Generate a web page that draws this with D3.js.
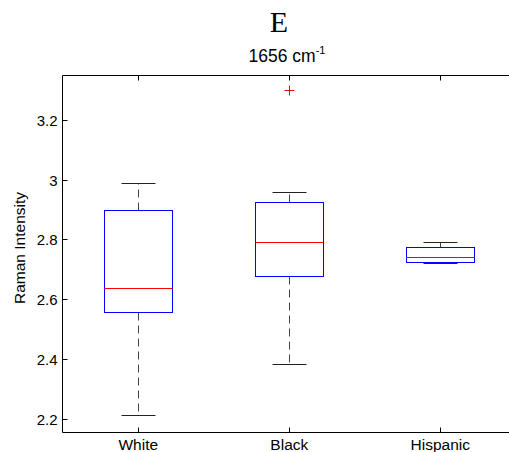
<!DOCTYPE html>
<html>
<head>
<meta charset="utf-8">
<script src="https://cdn.jsdelivr.net/npm/d3@7"></script>
<style>
  body { margin: 0; background: #fff; overflow: hidden; }
  svg { display: block; }
  text { font-family: Arial, "Liberation Sans", sans-serif; fill: #000; }
</style>
</head>
<body>
<div id="chart"></div>
<script>
// box plot values
var groups = ["White", "Black", "Hispanic"];
var whiskerLow = [2.211, 2.382, 2.720];
var q1 = [2.557, 2.677, 2.726];
var medians = [2.638, 2.791, 2.741];
var q3 = [2.900, 2.925, 2.776];
var whiskerHigh = [2.988, 2.960, 2.790];
var outliers = [[], [3.30], []];
var yTicks = [2.2, 2.4, 2.6, 2.8, 3.0, 3.2];

var W = 509, H = 452;

var svg = d3.select("#chart").append("svg")
    .attr("width", W).attr("height", H);

var x = d3.scaleLinear()
    .domain([0.5, 3.5])
    .range([62.8, 515.8]);

var y = d3.scaleLinear()
    .domain([2.157, 3.352])
    .range([432, 75]);

// crisp 1px lines
function px(v) { return Math.round(v - 0.5) + 0.5; }

var plotTop = px(y(3.352)), plotBottom = px(y(2.157));
var plotLeft = px(x(0.5));

// axes (right side of the box falls outside the window)
var axis = svg.append("g").attr("stroke", "#000").attr("stroke-width", 1).attr("fill", "none");
axis.append("path")
    .attr("d", "M" + W + "," + plotTop + "H" + plotLeft + "V" + plotBottom + "H" + W);

// y ticks (inward)
yTicks.forEach(function(t) {
    var yy = px(y(t));
    axis.append("line").attr("x1", plotLeft).attr("x2", plotLeft + 5).attr("y1", yy).attr("y2", yy);
});
// x ticks (inward, top and bottom)
groups.forEach(function(g, i) {
    var xx = px(x(i + 1));
    axis.append("line").attr("x1", xx).attr("x2", xx).attr("y1", plotBottom).attr("y2", plotBottom - 5);
    axis.append("line").attr("x1", xx).attr("x2", xx).attr("y1", plotTop).attr("y2", plotTop + 5);
});

svg.append("g").selectAll("text")
    .data(yTicks).enter().append("text")
    .attr("x", plotLeft - 5)
    .attr("y", function(d) { return y(d); })
    .attr("dy", "0.36em")
    .attr("text-anchor", "end")
    .style("font-size", "15px")
    .text(function(d) { return String(+d.toFixed(1)); });

svg.append("g").selectAll("text")
    .data(groups).enter().append("text")
    .attr("x", function(d, i) { return x(i + 1); })
    .attr("y", 450)
    .attr("text-anchor", "middle")
    .style("font-size", "15.5px")
    .text(function(d) { return d; });

// y label
svg.append("text")
    .attr("transform", "translate(25,248) rotate(-90)")
    .attr("text-anchor", "middle")
    .style("font-size", "15.5px")
    .text("Raman Intensity");

// titles
svg.append("text")
    .attr("x", 279).attr("y", 32)
    .attr("text-anchor", "middle")
    .style("font-family", "'Liberation Serif', 'Times New Roman', serif")
    .style("font-size", "30px")
    .text("E");

var sub = svg.append("text")
    .attr("x", 287).attr("y", 62)
    .attr("text-anchor", "middle")
    .style("font-size", "17.5px");
sub.append("tspan").text("1656 cm");
sub.append("tspan").attr("dy", -8).style("font-size", "11px").text("-1");

// boxes
var halfBox = 0.225, halfCap = 0.113;
var boxes = svg.append("g").attr("fill", "none").attr("stroke-width", 1);

groups.forEach(function(g, i) {
    var c = px(x(i + 1));
    var bx0 = px(x(i + 1 - halfBox)), bx1 = px(x(i + 1 + halfBox));
    var cx0 = px(x(i + 1 - halfCap)), cx1 = px(x(i + 1 + halfCap));
    var yq1 = px(y(q1[i])), yq3 = px(y(q3[i]));
    var ylo = px(y(whiskerLow[i])), yhi = px(y(whiskerHigh[i]));
    var ymed = px(y(medians[i]));

    // whiskers
    boxes.append("line").attr("x1", c).attr("x2", c).attr("y1", yq3).attr("y2", yhi)
        .attr("stroke", "#444").attr("stroke-dasharray", "8,5");
    boxes.append("line").attr("x1", c).attr("x2", c).attr("y1", yq1).attr("y2", ylo)
        .attr("stroke", "#444").attr("stroke-dasharray", "8,5");
    boxes.append("line").attr("x1", cx0).attr("x2", cx1).attr("y1", yhi).attr("y2", yhi)
        .attr("stroke", "#222");
    boxes.append("line").attr("x1", cx0).attr("x2", cx1).attr("y1", ylo).attr("y2", ylo)
        .attr("stroke", "#222");

    // box
    boxes.append("rect")
        .attr("x", bx0).attr("y", yq3)
        .attr("width", bx1 - bx0).attr("height", yq1 - yq3)
        .attr("stroke", "#0000ff");
    // median
    boxes.append("line").attr("x1", bx0).attr("x2", bx1).attr("y1", ymed).attr("y2", ymed)
        .attr("stroke", "#ff0000");

    // outliers
    outliers[i].forEach(function(o) {
        var oy = px(y(o));
        boxes.append("path")
            .attr("d", "M" + (c - 5) + "," + oy + "H" + (c + 5) + "M" + c + "," + (oy - 5) + "V" + (oy + 5))
            .attr("stroke", "#ff0000");
    });
});
</script>
</body>
</html>
